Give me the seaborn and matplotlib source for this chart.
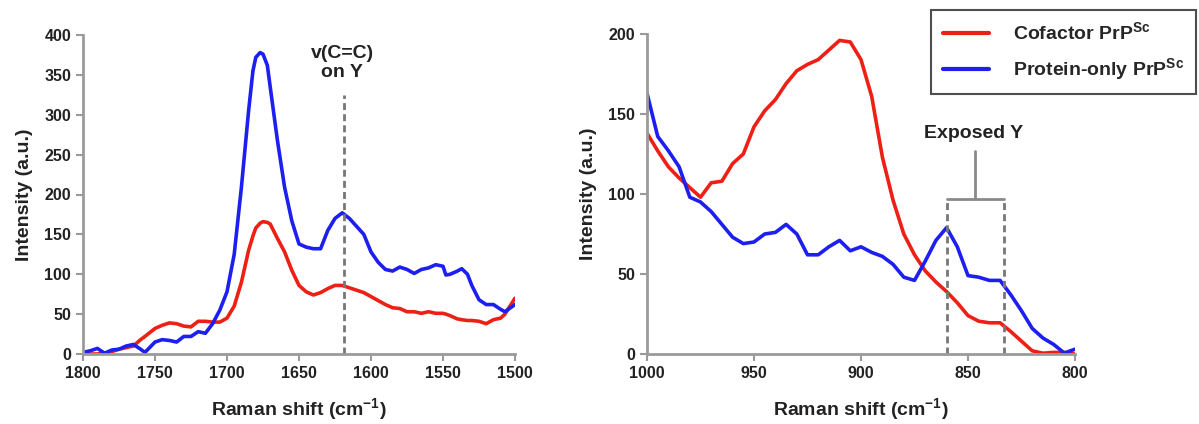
import matplotlib
matplotlib.use("Agg")
import matplotlib.pyplot as plt
import seaborn as sns
import pandas as pd

# left panel: 1800-1500 cm-1
left_shift = [1800, 1795, 1790, 1785, 1780, 1775, 1770, 1765, 1760, 1757, 1750, 1745,
              1740, 1735, 1730, 1725, 1720, 1715, 1710, 1705, 1700, 1695, 1690, 1685,
              1682, 1680, 1677, 1675, 1672, 1670, 1665, 1660, 1655, 1650, 1645, 1640,
              1635, 1630, 1625, 1620, 1615, 1610, 1605, 1600, 1595, 1590, 1585, 1580,
              1575, 1570, 1565, 1560, 1555, 1550, 1548, 1545, 1540, 1537, 1533, 1530,
              1525, 1520, 1515, 1510, 1507, 1500]
left_protein = [2, 4, 7, 1, 5, 6, 10, 12, 6, 2, 15, 18,
                17, 15, 22, 22, 28, 26, 38, 55, 78, 125, 209, 305,
                355, 372, 378, 376, 362, 335, 268, 209, 167, 138, 134, 132,
                132, 155, 170, 177, 170, 160, 150, 128, 115, 106, 104, 109,
                106, 101, 106, 108, 112, 110, 99, 100, 104, 107, 100, 86,
                68, 62, 62, 56, 53, 62]
left_cofactor = [0, 0, 0, 1, 3, 6, 8, 10, 18, 22, 32, 36,
                 39, 38, 35, 34, 41, 41, 40, 40, 45, 60, 90, 130,
                 148, 158, 164, 166, 165, 163, 145, 128, 105, 86, 78, 74,
                 77, 82, 86, 86, 83, 80, 77, 72, 67, 62, 58, 57,
                 53, 53, 51, 53, 51, 51, 50, 48, 44, 43, 42, 42,
                 41, 38, 43, 45, 50, 70]

# right panel: 1000-800 cm-1
right_shift = [1000, 995, 990, 985, 980, 975, 970, 965, 960, 955, 950, 945, 940,
               935, 930, 925, 920, 915, 910, 905, 900, 895, 890, 885, 880, 875,
               870, 865, 860, 855, 850, 845, 840, 835, 830, 825, 820, 815, 810,
               805, 800]
right_cofactor = [138, 127, 117, 110, 104, 98, 107, 108, 119, 125, 142, 152, 159,
                  169, 177, 181, 184, 190, 196, 195, 184, 161, 123, 96, 75, 62,
                  52, 45, 39, 32, 24, 20.5, 19.5, 19.5, 14, 8, 2, 0.5, 1,
                  1, 0]
right_protein = [163, 136, 127, 117, 98, 95, 89, 81, 73, 69, 70, 75, 76,
                 81, 75, 62, 62, 67, 71, 64.5, 67, 63.5, 61, 56, 48, 46,
                 58, 71, 79, 67, 49, 48, 46, 46, 37, 27, 16, 10, 6,
                 0.6, 3]

series_names = ["Cofactor PrP$^{\\mathbf{Sc}}$", "Protein-only PrP$^{\\mathbf{Sc}}$"]
palette = {series_names[0]: "#ee2015", series_names[1]: "#1c1ff0"}

sns.set_style("ticks")
plt.rcParams["font.family"] = ["Liberation Sans", "DejaVu Sans"]
plt.rcParams["font.weight"] = "bold"
plt.rcParams["mathtext.fontset"] = "custom"
plt.rcParams["mathtext.bf"] = "Liberation Sans:bold"
plt.rcParams["mathtext.rm"] = "Liberation Sans:bold"


def long_frame(shift, cof, prot):
    a = pd.DataFrame({"shift": shift, "val": cof, "series": series_names[0]})
    b = pd.DataFrame({"shift": shift, "val": prot, "series": series_names[1]})
    return pd.concat([a, b], ignore_index=True)


df_left = long_frame(left_shift, left_cofactor, left_protein)
df_right = long_frame(right_shift, right_cofactor, right_protein)

fig = plt.figure(figsize=(11.99, 4.24), dpi=100)
ax1 = fig.add_axes([83 / 1199, 1 - 354 / 424, 432 / 1199, 319 / 424])
ax2 = fig.add_axes([647 / 1199, 1 - 354 / 424, 428 / 1199, 320 / 424])

grey = "#9a9a9a"
for ax, df, xl, yl, yt in [(ax1, df_left, (1800, 1500), (0, 400), range(0, 401, 50)),
                           (ax2, df_right, (1000, 800), (0, 200), range(0, 201, 50))]:
    sns.lineplot(data=df, x="shift", y="val", hue="series", palette=palette,
                 linewidth=2.6, ax=ax, legend=(ax is ax2), sort=False)
    ax.set_xlim(*xl)
    ax.set_ylim(*yl)
    ax.set_yticks(list(yt))
    ax.set_xticks(list(range(xl[0], xl[1] - 1, -50)))
    sns.despine(ax=ax)
    for s in ["left", "bottom"]:
        ax.spines[s].set_color(grey)
        ax.spines[s].set_linewidth(2)
    ax.tick_params(colors=grey, width=1.5, length=5, labelcolor="#222222",
                   labelsize=11.5)
    for lab in ax.get_xticklabels() + ax.get_yticklabels():
        lab.set_fontweight("bold")
    ax.set_xlabel("Raman shift (cm$^{\\mathbf{-1}}$)", fontsize=14,
                  fontweight="bold", color="#222222", labelpad=11)
    ax.set_ylabel("Intensity (a.u.)", fontsize=14, fontweight="bold",
                  color="#222222", labelpad=8)
    ax.set_facecolor("none")

# left annotation
ax1.plot([1619, 1619], [0, 325], ls="--", color="#777777", lw=2, dashes=(2.5, 1.5))
ax1.text(1620, 365, "v(C=C)\non Y", ha="center", va="center", fontsize=14,
         fontweight="bold", color="#222222", linespacing=1.1)

# right annotation
ax2.plot([860, 860], [0, 97], ls="--", color="#777777", lw=2, dashes=(2.5, 1.5))
ax2.plot([833, 833], [0, 97], ls="--", color="#777777", lw=2, dashes=(2.5, 1.5))
ax2.plot([860, 833], [97, 97], color="#8a8a8a", lw=2)
ax2.plot([846.5, 846.5], [97, 127], color="#8a8a8a", lw=2)
ax2.text(847.5, 138, "Exposed Y", ha="center", va="center", fontsize=14,
         fontweight="bold", color="#222222")

leg = ax2.get_legend()
handles = leg.legend_handles
leg.remove()
lg = fig.legend(handles, series_names, loc="upper left",
                bbox_to_anchor=(931 / 1199, 1 - 10 / 424), frameon=True,
                fancybox=False, edgecolor="#222222", fontsize=14,
                handlelength=2.4, handletextpad=1.2, borderpad=0.6,
                labelspacing=0.6, borderaxespad=0)
lg.get_frame().set_linewidth(1.5)
for h in lg.legend_handles:
    h.set_linewidth(3)
for t in lg.get_texts():
    t.set_fontweight("bold")

fig.savefig("out.png", dpi=100)
